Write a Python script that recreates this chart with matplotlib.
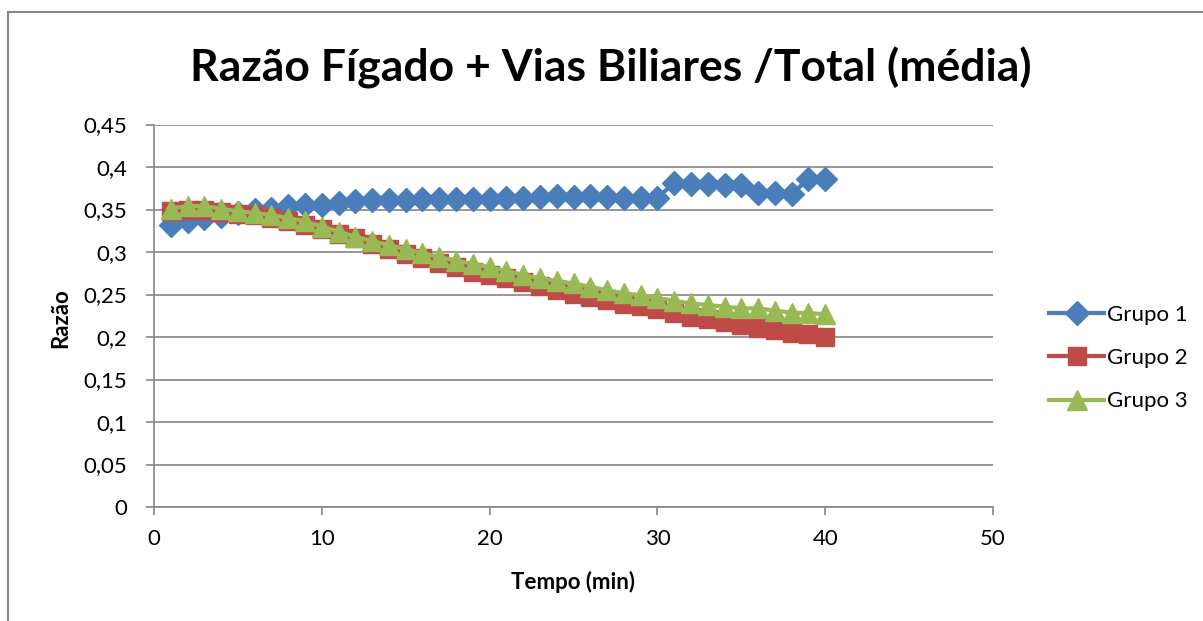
#!/usr/bin/env python
"""Razao figado + vias biliares / total, media por grupo."""

from __future__ import annotations

import matplotlib

matplotlib.use("Agg")
import matplotlib.pyplot as plt
from matplotlib.lines import Line2D
from matplotlib.ticker import FuncFormatter

tempo = list(range(1, 41))

grupo1 = [
    0.332, 0.337, 0.340, 0.342, 0.346, 0.349, 0.351, 0.354, 0.355, 0.355,
    0.358, 0.360, 0.361, 0.361, 0.361, 0.362, 0.362, 0.362, 0.362, 0.362,
    0.364, 0.364, 0.365, 0.366, 0.365, 0.366, 0.365, 0.364, 0.364, 0.364,
    0.381, 0.380, 0.380, 0.379, 0.379, 0.369, 0.369, 0.368, 0.386, 0.386,
]
grupo2 = [
    0.348, 0.349, 0.349, 0.347, 0.345, 0.343, 0.340, 0.337, 0.332, 0.327,
    0.321, 0.316, 0.310, 0.304, 0.298, 0.293, 0.287, 0.282, 0.277, 0.273,
    0.269, 0.265, 0.260, 0.255, 0.251, 0.247, 0.243, 0.239, 0.236, 0.233,
    0.228, 0.224, 0.221, 0.218, 0.214, 0.211, 0.208, 0.205, 0.203, 0.200,
]
grupo3 = [
    0.351, 0.354, 0.354, 0.351, 0.348, 0.346, 0.3435, 0.340, 0.336, 0.330,
    0.324, 0.318, 0.313, 0.308, 0.3035, 0.2985, 0.294, 0.290, 0.286, 0.282,
    0.278, 0.273, 0.269, 0.266, 0.263, 0.259, 0.255, 0.2515, 0.249, 0.246,
    0.2425, 0.2396, 0.2376, 0.2357, 0.2337, 0.2337, 0.231, 0.2287, 0.228, 0.227,
]

series_names = ["Grupo 1", "Grupo 2", "Grupo 3"]
x_ticks = [0, 10, 20, 30, 40, 50]
y_ticks = [0, 0.05, 0.1, 0.15, 0.2, 0.25, 0.3, 0.35, 0.4, 0.45]

BLUE = "#4A7EBB"
RED = "#BE4B48"
GREEN = "#98B954"
GRID = "#868686"


def comma(v, _pos):
    s = f"{v:.2f}".rstrip("0").rstrip(".")
    return s.replace(".", ",")


def main() -> None:
    plt.rcParams["font.family"] = ["Lato", "DejaVu Sans"]

    fig = plt.figure(figsize=(12.03, 6.21), dpi=100)
    ax = fig.add_axes([154 / 1203, 1 - 507 / 621, (993 - 154) / 1203, (507 - 124.5) / 621])

    # outer chart border (only top and left visible in the crop)
    fig.add_artist(Line2D([8 / 1203, 8 / 1203], [0, 1 - 12 / 621], color=GRID, lw=1.5))
    fig.add_artist(Line2D([8 / 1203, 1], [1 - 12 / 621, 1 - 12 / 621], color=GRID, lw=1.5))

    styles = [(grupo1, BLUE, "D", 12.5), (grupo2, RED, "s", 13), (grupo3, GREEN, "^", 14.5)]
    handles = []
    for (vals, color, marker, ms), name in zip(styles, series_names):
        (h,) = ax.plot(tempo, vals, color=color, lw=3, marker=marker, markersize=ms,
                       markeredgecolor=color, markerfacecolor=color, label=name, clip_on=False)
        handles.append(h)

    ax.set_xlim(0, 50)
    ax.set_ylim(0, 0.45)
    ax.set_xticks(x_ticks)
    ax.set_yticks(y_ticks)
    ax.yaxis.set_major_formatter(FuncFormatter(comma))
    ax.grid(axis="y", color=GRID, lw=1.2)
    ax.set_axisbelow(True)
    for side in ("top", "right"):
        ax.spines[side].set_visible(False)
    for side in ("left", "bottom"):
        ax.spines[side].set_color(GRID)
        ax.spines[side].set_linewidth(1.2)
    ax.tick_params(axis="y", length=6, width=1.2, color=GRID, pad=13, labelsize=16)
    ax.tick_params(axis="x", length=6, width=1.2, color=GRID, pad=10, labelsize=16)

    ax.set_xlabel("Tempo (min)", fontsize=16, fontweight="bold")
    ax.set_ylabel("Razão", fontsize=16, fontweight="bold")
    ax.xaxis.set_label_coords((573 - 154) / 839, (507 - 571) / 382.5)
    ax.yaxis.set_label_coords((71 - 154) / 839, (507 - 318) / 382.5)

    fig.text(0.508, 1 - 68 / 621, "Razão Fígado + Vias Biliares /Total (média)",
             ha="center", va="center", fontsize=32, fontweight="bold")

    fig.legend(handles=handles, loc="center left", bbox_to_anchor=(1040 / 1203, 1 - 358 / 621),
               frameon=False, fontsize=16, handlelength=2.5, handletextpad=0.1,
               labelspacing=1.05, borderaxespad=0)

    fig.savefig("out.png", dpi=100)
    plt.close(fig)


if __name__ == "__main__":
    main()
